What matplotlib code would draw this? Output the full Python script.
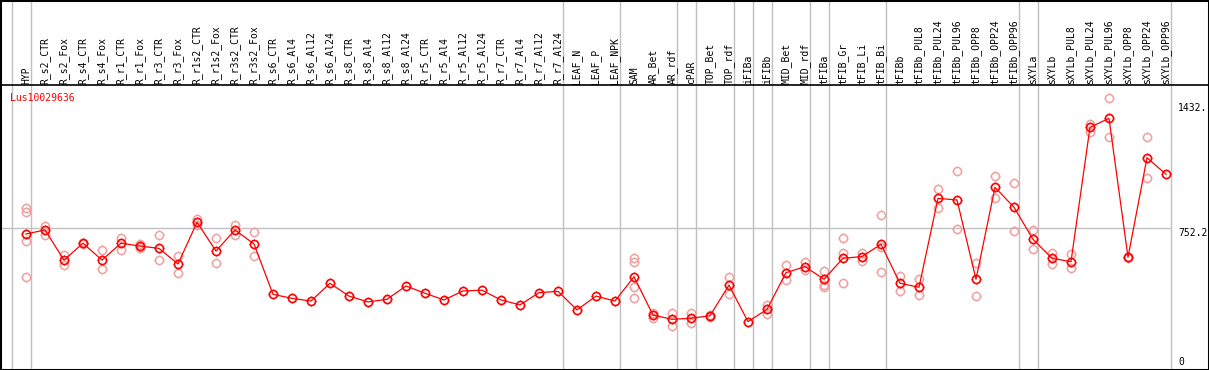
import matplotlib
matplotlib.use('Agg')
import matplotlib.pyplot as plt
from matplotlib.path import Path
import numpy as np

# Samples along the top
samples = ['HYP', 'R_s2_CTR', 'R_s2_Fox', 'R_s4_CTR', 'R_s4_Fox', 'R_r1_CTR', 'R_r1_Fox',
           'R_r3_CTR', 'R_r3_Fox', 'R_r1s2_CTR', 'R_r1s2_Fox', 'R_r3s2_CTR', 'R_r3s2_Fox',
           'R_s6_CTR', 'R_s6_Al4', 'R_s6_Al12', 'R_s6_Al24', 'R_s8_CTR', 'R_s8_Al4', 'R_s8_Al12',
           'R_s8_Al24', 'R_r5_CTR', 'R_r5_Al4', 'R_r5_Al12', 'R_r5_Al24', 'R_r7_CTR', 'R_r7_Al4',
           'R_r7_Al12', 'R_r7_Al24', 'LEAF_N', 'LEAF_P', 'LEAF_NPK', 'SAM', 'AR_Bet', 'AR_rdf',
           'cPAR', 'TOP_Bet', 'TOP_rdf', 'iFIBa', 'iFIBb', 'MID_Bet', 'MID_rdf', 'tFIBa',
           'tFIB_Gr', 'tFIB_Li', 'tFIB_Bi', 'tFIBb', 'tFIBb_PUL8', 'tFIBb_PUL24', 'tFIBb_PUL96',
           'tFIBb_OPP8', 'tFIBb_OPP24', 'tFIBb_OPP96', 'sXYLa', 'sXYLb', 'sXYLb_PUL8',
           'sXYLb_PUL24', 'sXYLb_PUL96', 'sXYLb_OPP8', 'sXYLb_OPP24', 'sXYLb_OPP96']

# sizes of the sample groups (grey separators between them)
group_sizes = [1, 28, 3, 3, 1, 2, 1, 1, 2, 1, 3, 7, 1, 7]

gene = 'Lus10029636'

# mean expression per sample
means = [720, 743, 573, 668, 573, 668, 652, 639, 551, 786, 624, 743, 664,
         380, 357, 342, 442, 370, 337, 352, 427, 386, 348, 399, 403, 348, 320, 389, 397,
         292, 370, 342, 479, 263, 239, 245, 259, 432, 226, 295, 502, 536, 465,
         583, 593, 662, 442, 420, 921, 912, 465, 983, 871, 690, 583, 564,
         1322, 1372, 589, 1150, 1057]

# replicate values per sample
reps = [[865, 842, 683, 479], [767, 714], [602, 545], [672, 664], [630, 521],
        [699, 630], [664, 639], [713, 573], [596, 498], [806, 771], [696, 555],
        [771, 714], [730, 596],
        [], [], [], [], [], [], [], [], [], [], [], [], [], [], [], [],
        [], [], [], [586, 564, 420, 357], [276, 245], [273, 203], [273, 217], [263, 250],
        [476, 382], [], [320, 267], [545, 460], [560, 517], [513, 432, 423],
        [696, 615, 442], [615, 565], [827, 644, 504], [483, 400], [465, 374],
        [972, 865], [1075, 747], [558, 370], [1049, 925], [1006, 737], [743, 634],
        [615, 549], [607, 527], [1340, 1297], [1485, 1265], [592, 586], [1265, 1034], []]

mid_value = 752.2
top_label = '1432.'
top_value = 1432

W, H = 1209, 370
x0, dx = 26, 19          # pixel position of first column and spacing
y0, k = 361.7, 0.17735   # pixel row of zero and pixels per unit

fig = plt.figure(figsize=(W / 100, H / 100), dpi=100)
ax = fig.add_axes([0, 0, 1, 1])
ax.set_xlim(-x0 / dx, (W - x0) / dx)
ax.set_ylim(-(H - y0) / k, y0 / k)
ax.set_xticks([])
ax.set_yticks([])
for s in ax.spines.values():
    s.set_linewidth(2.2)
    s.set_color('black')

mono = 'DejaVu Sans Mono'
red = '#ff0000'
pink = '#f0a0a0'
grey = '#c0c0c0'

# little ticks around the circles
ticks = Path([(0, 0.7), (0, 1), (0, -0.7), (0, -1), (0.7, 0), (1, 0), (-0.7, 0), (-1, 0)],
             [Path.MOVETO, Path.LINETO] * 4)

# group separators
bounds = np.cumsum([0] + group_sizes) - 1
for b in bounds:
    ax.axvline(b + 0.24, color=grey, lw=1.0, zorder=1)
ax.hlines(mid_value, ax.get_xlim()[0], bounds[-1] + 0.24, color=grey, lw=1.0, zorder=1)

# header separator
ax.axhline(y0 / k - 85 / k, color='black', lw=1.2, zorder=2)

# sample labels
label_y = y0 / k - 83.5 / k
for i, name in enumerate(samples):
    ax.text(i, label_y, name, rotation=90, ha='center', va='bottom',
            fontsize=7, family=mono, color='black')

# replicates
for i, r in enumerate(reps):
    if r:
        ax.plot([i] * len(r), r, 'o', ms=5.8, mfc='none', mec=pink, mew=1.1, zorder=3)
        ax.plot([i] * len(r), r, ls='none', marker=ticks, ms=7.4, mec=pink, mew=0.9, zorder=3)

# means
x = np.arange(len(means))
ax.plot(x, means, '-', color=red, lw=0.9, zorder=4)
ax.plot(x, means, 'o', ms=5.8, mfc='none', mec=red, mew=1.2, zorder=5)
ax.plot(x, means, ls='none', marker=ticks, ms=7.4, mec=red, mew=0.9, zorder=5)

# gene name
ax.text(10 / dx + ax.get_xlim()[0], y0 / k - 98 / k, gene, color=red, fontsize=7,
        family=mono, ha='left', va='center')

# value labels on the right
lx = ax.get_xlim()[0] + 1178 / dx
ax.text(lx, top_value, top_label, fontsize=7, family=mono, ha='left', va='center')
ax.text(lx, mid_value, '%.1f' % mid_value, fontsize=7, family=mono, ha='left', va='top')
ax.text(lx, 0, '0', fontsize=7, family=mono, ha='left', va='center')

fig.savefig('out.png', dpi=100)
